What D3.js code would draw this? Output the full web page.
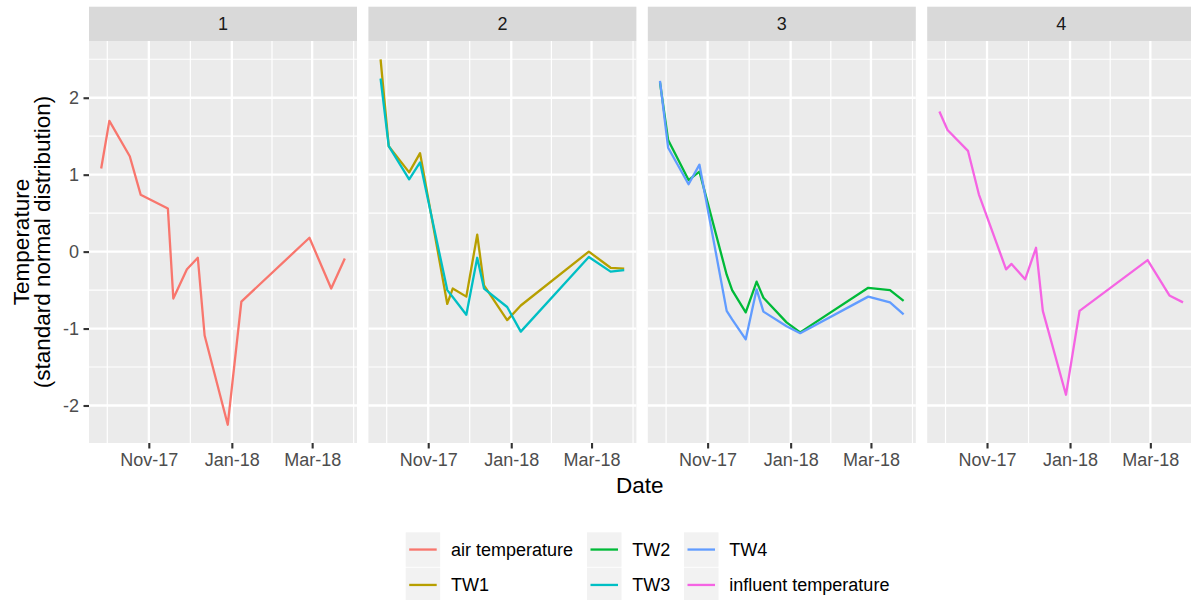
<!DOCTYPE html>
<html>
<head>
<meta charset="utf-8">
<script src="https://cdn.jsdelivr.net/npm/d3@7"></script>
<style>
html,body{margin:0;padding:0;background:#fff;}
svg{display:block;font-family:"Liberation Sans",Arial,sans-serif;}
</style>
</head>
<body>
<svg id="chart" width="1191" height="600"></svg>
<script>
// ---- data ----
const dates = ["2017-09-27","2017-10-03","2017-10-18","2017-10-26","2017-11-15","2017-11-19","2017-11-29",
               "2017-12-07","2017-12-12","2017-12-29","2018-01-08","2018-02-27","2018-03-15","2018-03-25"];
const airTemperature = [1.08, 1.70, 1.24, 0.74, 0.56, -0.61, -0.23, -0.08, -1.09, -2.25, -0.65, 0.18, -0.48, -0.09];
const tw1 = [2.50, 1.37, 1.03, 1.28, -0.68, -0.48, -0.585, 0.22, -0.44, -0.89, -0.70, 0.00, -0.21, -0.22];
const tw2 = [2.20, 1.45, 0.93, 1.04, -0.30, -0.50, -0.79, -0.39, -0.60, -0.92, -1.05, -0.47, -0.50, -0.64];
const tw3 = [2.25, 1.37, 0.94, 1.16, -0.50, -0.59, -0.82, -0.08, -0.48, -0.72, -1.04, -0.07, -0.26, -0.24];
const tw4 = [2.22, 1.35, 0.875, 1.13, -0.77, -0.88, -1.14, -0.49, -0.78, -0.97, -1.06, -0.585, -0.66, -0.815];
const influentTemperature = [1.82, 1.58, 1.31, 0.745, -0.23, -0.16, -0.36, 0.05, -0.77, -1.86, -0.77, -0.11, -0.57, -0.66];

const seriesNames = ["air temperature","TW1","TW2","TW3","TW4","influent temperature"];
const seriesColors = ["#F8766D","#B79F00","#00BA38","#00BFC4","#619CFF","#F564E3"];
const seriesValues = [airTemperature, tw1, tw2, tw3, tw4, influentTemperature];
const panelLabels = ["1","2","3","4"];
const panelSeries = [["air temperature"],["TW1","TW3"],["TW2","TW4"],["influent temperature"]];
const xBreaks = ["2017-09-01","2017-11-01","2018-01-01","2018-03-01","2018-05-01"];
const yTicks = [-2,-1,0,1,2];
const yMinorTicks = [-2.5,-1.5,-0.5,0.5,1.5,2.5];
const xTitle = "Date";
const yTitle = ["Temperature","(standard normal distribution)"];

// ---- layout ----
const svg = d3.select("#chart");
const parse = d3.utcParse("%Y-%m-%d");
const fmt = d3.utcFormat("%b-%y");
const dateVals = dates.map(parse);
const panelW = 268, panelStep = 279.4, panelLeft0 = 89;
const stripTop = 6.7, stripBottom = 41, panelBottom = 443;
const fs = 18, titleFs = 22.5;

const xExt = d3.extent(dateVals);
const xPad = (xExt[1] - xExt[0]) * 0.05;
const xDomain = [new Date(+xExt[0] - xPad), new Date(+xExt[1] + xPad)];
const allVals = seriesValues.flat();
const yExt = d3.extent(allVals);
const yPad = (yExt[1] - yExt[0]) * 0.05;
const y = d3.scaleLinear().domain([yExt[0] - yPad, yExt[1] + yPad]).range([panelBottom, stripBottom]);

const majorDates = xBreaks.map(parse);
const minorDates = d3.pairs(majorDates).map(([a,b]) => new Date((+a + +b)/2));

const color = d3.scaleOrdinal().domain(seriesNames).range(seriesColors);

panelLabels.forEach((lab, i) => {
  const left = panelLeft0 + i * panelStep;
  const x = d3.scaleUtc().domain(xDomain).range([left, left + panelW]);
  const g = svg.append("g");
  // strip
  g.append("rect").attr("x", left).attr("y", stripTop).attr("width", panelW).attr("height", stripBottom - stripTop).attr("fill", "#D9D9D9");
  g.append("text").attr("x", left + panelW/2).attr("y", (stripTop + stripBottom)/2).attr("dy", "0.35em")
    .attr("text-anchor", "middle").attr("font-size", fs).attr("fill", "#1A1A1A").text(lab);
  // panel bg
  g.append("rect").attr("x", left).attr("y", stripBottom).attr("width", panelW).attr("height", panelBottom - stripBottom).attr("fill", "#EBEBEB");
  const grid = g.append("g");
  yMinorTicks.filter(v => y(v) >= stripBottom && y(v) <= panelBottom).forEach(v => {
    grid.append("line").attr("x1", left).attr("x2", left + panelW).attr("y1", y(v)).attr("y2", y(v)).attr("stroke", "#fff").attr("stroke-width", 1.2);
  });
  minorDates.filter(d => x(d) >= left && x(d) <= left + panelW).forEach(d => {
    grid.append("line").attr("x1", x(d)).attr("x2", x(d)).attr("y1", stripBottom).attr("y2", panelBottom).attr("stroke", "#fff").attr("stroke-width", 1.2);
  });
  yTicks.forEach(v => {
    grid.append("line").attr("x1", left).attr("x2", left + panelW).attr("y1", y(v)).attr("y2", y(v)).attr("stroke", "#fff").attr("stroke-width", 2.3);
  });
  const inMajor = majorDates.filter(d => x(d) >= left && x(d) <= left + panelW);
  inMajor.forEach(d => {
    grid.append("line").attr("x1", x(d)).attr("x2", x(d)).attr("y1", stripBottom).attr("y2", panelBottom).attr("stroke", "#fff").attr("stroke-width", 2.3);
  });
  // lines
  const line = d3.line().x((d, k) => x(dateVals[k])).y(d => y(d));
  panelSeries[i].forEach(name => {
    const vals = seriesValues[seriesNames.indexOf(name)];
    g.append("path").datum(vals).attr("d", line).attr("fill", "none")
      .attr("stroke", color(name)).attr("stroke-width", 2.3).attr("stroke-linejoin", "round");
  });
  // x axis
  const xa = g.append("g").attr("transform", `translate(0,${panelBottom})`)
    .call(d3.axisBottom(x).tickValues(inMajor).tickFormat(fmt).tickSize(5.5).tickPadding(4.4));
  xa.select(".domain").remove();
  xa.selectAll(".tick line").attr("stroke", "#333333").attr("stroke-width", 2.1);
  xa.selectAll(".tick text").attr("font-size", fs).attr("fill", "#4D4D4D").attr("font-family", "Liberation Sans, Arial, sans-serif");
  if (i === 0) {
    const ya = g.append("g").attr("transform", `translate(${left},0)`)
      .call(d3.axisLeft(y).tickValues(yTicks).tickFormat(d3.format("d")).tickSize(5.5).tickPadding(4.4));
    ya.select(".domain").remove();
    ya.selectAll(".tick line").attr("stroke", "#333333").attr("stroke-width", 2.1);
    ya.selectAll(".tick text").attr("font-size", fs).attr("fill", "#4D4D4D").attr("font-family", "Liberation Sans, Arial, sans-serif")
      .text(d => d < 0 ? "-" + Math.abs(d) : String(d));
  }
});

// axis titles
const plotMidX = (panelLeft0 + 1190.5) / 2;
svg.append("text").attr("x", plotMidX).attr("y", 493).attr("text-anchor", "middle").attr("font-size", titleFs).attr("fill", "#000").text(xTitle);
const yMid = (stripBottom + panelBottom) / 2;
[29, 50].forEach((bx, k) => {
  svg.append("text").attr("transform", `translate(${bx},${yMid}) rotate(-90)`).attr("text-anchor", "middle")
    .attr("font-size", titleFs).attr("fill", "#000").text(yTitle[k]);
});

// legend (3 columns, filled by column)
const legCols = [405.7, 587, 684];
const legRows = [532.3, 567.7];
const keySize = 34.5;
seriesNames.forEach((name, k) => {
  const col = Math.floor(k / 2), row = k % 2;
  const lx = legCols[col], ly = legRows[row];
  svg.append("rect").attr("x", lx).attr("y", ly).attr("width", keySize).attr("height", keySize).attr("fill", "#F2F2F2");
  svg.append("line").attr("x1", lx + 3.5).attr("x2", lx + keySize - 3.5).attr("y1", ly + keySize/2).attr("y2", ly + keySize/2)
    .attr("stroke", color(name)).attr("stroke-width", 2.3);
  svg.append("text").attr("x", lx + 45.3).attr("y", ly + keySize/2).attr("dy", "0.35em").attr("font-size", fs).attr("fill", "#000").text(name);
});
</script>
</body>
</html>
